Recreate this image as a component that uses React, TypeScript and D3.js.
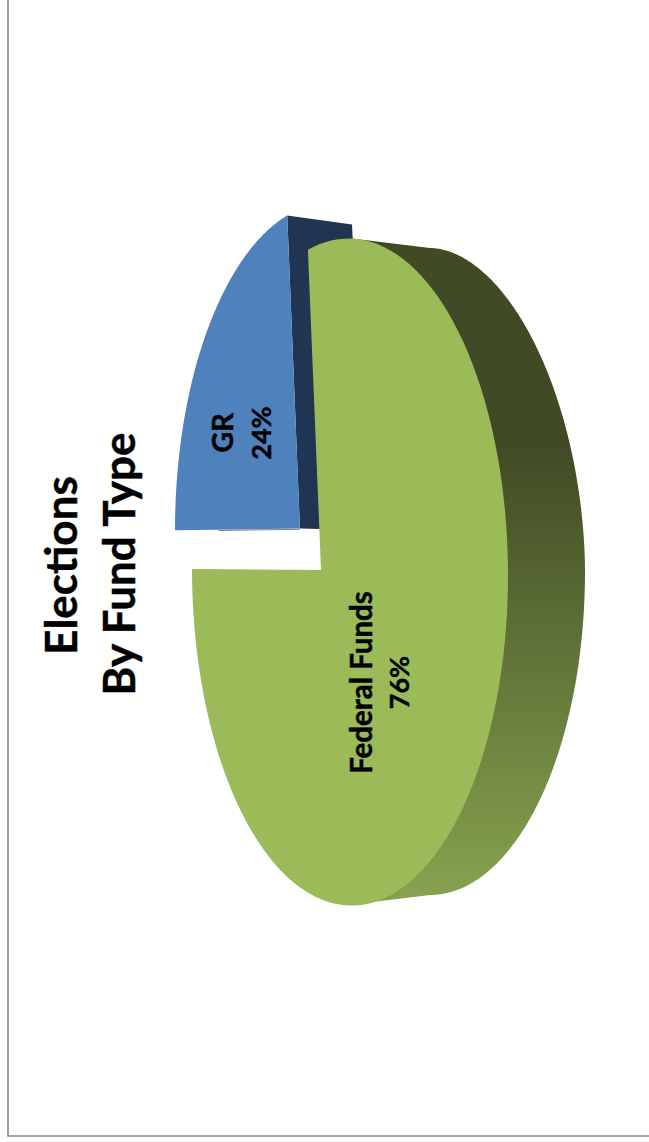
import React from "react";
import * as d3 from "d3";

// Fund shares, in percent
const fundNames = ["GR", "Federal Funds"];
const fundShares = [24, 76];
const titleLines = ["Elections", "By Fund Type"];

const WIDTH = 649;
const HEIGHT = 1142;

type Disc = { cx: number; cy: number; rx: number; ry: number; shear: number; apexDy: number };

// Perspective of the tilted disc: where the true centre lands inside the ellipse
const k = -0.1835;
const ch = 1 / Math.sqrt(1 - k * k);
const sh = k * ch;
const deg = Math.PI / 180;

const project = (d: Disc, angle: number): [number, number] => {
  // the camera's slight yaw drags angles near the top of the disc backwards
  const a = angle - 1.4 * deg * Math.cos(angle);
  const u = Math.sin(a);
  const v = -Math.cos(a);
  const w = u * sh + ch;
  const px = (u * ch + sh) / w;
  const py = v / w;
  return [d.cx + d.rx * px, d.cy + d.ry * py + d.shear * (px - k) * d.rx];
};

// The projected centre of a disc, where the slice edges meet
const apex = (d: Disc): [number, number] => [d.cx + d.rx * k, d.cy + d.apexDy];

const greenFront: Disc = { cx: 350, cy: 571.5, rx: 158, ry: 333.5, shear: 0.02, apexDy: -1.5 };
const greenBack: Disc = { cx: 430, cy: 571.5, rx: 155, ry: 323.5, shear: 0, apexDy: 0 };
const blueFront: Disc = { cx: 328, cy: 528.5, rx: 153, ry: 325, shear: -0.015, apexDy: 0 };
const blueBack: Disc = { cx: 392, cy: 530, rx: 150, ry: 317, shear: 0, apexDy: 0 };

const pieSlices = d3
  .pie<number>()
  .sort(null)
  .startAngle(-90 * deg)
  .endAngle(270 * deg)(fundShares);

const line = d3.line();

const slicePath = (d: Disc, a0: number, a1: number) => {
  const arc = d3.range(0, 121).map((i) => project(d, a0 + ((a1 - a0) * i) / 120));
  return line([apex(d), ...arc]) + "Z";
};

// Outer rim of the large slice's wall; its upper half is a little flatter than an ellipse
const rimPoint = (d: Disc, t: number): [number, number] => {
  const n = t < 0 ? 1.87 : 2;
  return [
    d.cx + d.rx * Math.pow(Math.abs(Math.cos(t)), 2 / n),
    d.cy + Math.sign(t) * d.ry * Math.pow(Math.abs(Math.sin(t)), 2 / n),
  ];
};
const wallPoints: [number, number][] = [
  [greenFront.cx + 2, greenFront.cy - greenFront.ry + 0.5],
  ...d3.range(-90, 90.5, 1).map((a) => rimPoint(greenBack, a * deg)),
  [greenFront.cx + 2, greenFront.cy + greenFront.ry - 0.5],
];

// Inner wall of the small slice, along its clockwise edge
const blueStart = pieSlices[0].startAngle;
const blueEnd = pieSlices[0].endAngle;
const blueWall: [number, number][] = [
  apex(blueFront),
  project(blueFront, blueEnd),
  project(blueBack, blueEnd),
  apex(blueBack),
];

// Sliver of the small slice's other wall, seen under its straight edge
const blueSliver: [number, number][] = [
  d3.interpolateNumberArray(project(blueFront, blueStart), apex(blueFront))(0.35) as unknown as [number, number],
  apex(blueFront),
];

const font = "Lato, 'Noto Sans', sans-serif";

const Rotated = ({ x, y, size, text }: { x: number; y: number; size: number; text: string }) => (
  <text
    transform={`translate(${x},${y}) rotate(-90)`}
    textAnchor="middle"
    dominantBaseline="central"
    fontFamily={font}
    fontWeight={700}
    fontSize={size}
    fill="#000"
    stroke="#000"
    strokeWidth={0.45}
  >
    {text}
  </text>
);

export default function App() {
  return (
    <svg
      width={WIDTH}
      height={HEIGHT}
      viewBox={`0 0 ${WIDTH} ${HEIGHT}`}
      style={{ position: "absolute", left: 0, top: 0, background: "#fff" }}
    >
      <defs>
        <linearGradient id="wallShade" gradientUnits="userSpaceOnUse" x1="0" y1="248" x2="0" y2="895">
          <stop offset="0" stopColor="#404A25" />
          <stop offset="0.3" stopColor="#404A25" />
          <stop offset="1" stopColor="#86A24E" />
        </linearGradient>
      </defs>

      {/* frame, open at the top and right */}
      <path d={`M8,0V1136H${WIDTH}`} fill="none" stroke="#868686" strokeWidth={1.6} />

      {/* small slice */}
      <path d={line(blueWall)! + "Z"} fill="#1F3552" />
      <path d={slicePath(blueFront, blueStart, blueEnd)} fill="#4F81BD" />
      <path
        d={line(blueSliver)!}
        transform="translate(0,0.8)"
        fill="none"
        stroke="#1F3552"
        strokeWidth={1}
        opacity={0.6}
      />

      {/* large slice */}
      <path d={line(wallPoints)! + "Z"} fill="url(#wallShade)" />
      <path d={slicePath(greenFront, pieSlices[1].startAngle, pieSlices[1].endAngle)} fill="#9BBB59" />

      <Rotated x={60} y={565.5} size={44} text={titleLines[0]} />
      <Rotated x={118} y={564} size={44} text={titleLines[1]} />

      <Rotated x={221} y={433} size={29} text={fundNames[0]} />
      <Rotated x={260} y={433} size={27} text={`${fundShares[0]}%`} />
      <Rotated x={360} y={682.5} size={29.5} text={fundNames[1]} />
      <Rotated x={398} y={682.5} size={27} text={`${fundShares[1]}%`} />
    </svg>
  );
}
